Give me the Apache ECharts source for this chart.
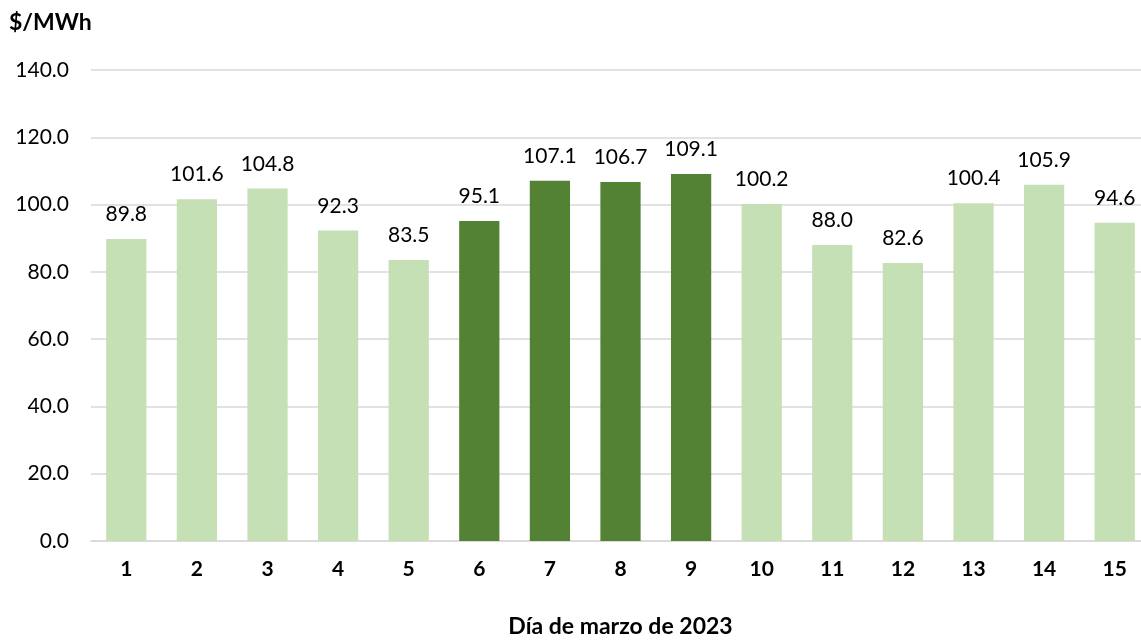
<!DOCTYPE html>
<html>
<head>
<meta charset="utf-8">
<script src="https://cdn.jsdelivr.net/npm/echarts@6/dist/echarts.min.js"></script>
<style>
  html, body { margin: 0; padding: 0; background: #fff; }
  #chart { width: 1141px; height: 641px; }
</style>
</head>
<body>
<div id="chart"></div>
<script>
var days = ['1','2','3','4','5','6','7','8','9','10','11','12','13','14','15'];
var prices = [89.8, 101.6, 104.8, 92.3, 83.5, 95.1, 107.1, 106.7, 109.1, 100.2, 88.0, 82.6, 100.4, 105.9, 94.6];
var highlightDays = ['6','7','8','9'];

var lightGreen = '#C5E0B4';
var darkGreen = '#548235';
var font = 'Lato, "Open Sans", sans-serif';

var myChart = echarts.init(document.getElementById('chart'));

var barData = [];
for (var i = 0; i < prices.length; i++) {
	barData.push({
		value: prices[i],
		itemStyle: { color: highlightDays.indexOf(days[i]) >= 0 ? darkGreen : lightGreen }
	});
}

var option = {
	animation: false,
	textStyle: { fontFamily: font },
	title: {
		text: '$/MWh',
		left: 4,
		top: 6,
		textStyle: { fontFamily: font, fontSize: 23, fontWeight: 'bold', color: '#000' }
	},
	grid: {
		left: 91,
		right: -9,
		top: 70,
		bottom: 100,
		containLabel: false,
		outerBoundsMode: 'none'
	},
	xAxis: {
		type: 'category',
		data: days,
		name: 'Día de marzo de 2023',
		nameLocation: 'middle',
		nameGap: 74,
		nameTextStyle: { fontFamily: font, fontSize: 23, fontWeight: 'bold', color: '#000' },
		axisTick: { show: false },
		axisLine: { lineStyle: { color: '#D9D9D9', width: 1.5 } },
		axisLabel: { fontFamily: font, fontSize: 21, fontWeight: 'bold', color: '#000', margin: 18 }
	},
	yAxis: {
		type: 'value',
		min: 0,
		max: 140,
		interval: 20,
		axisLine: { show: false },
		axisTick: { show: false },
		splitLine: { lineStyle: { color: '#D9D9D9', width: 1.5 } },
		axisLabel: {
			fontFamily: font, fontSize: 21, color: '#000', margin: 22,
			formatter: function (v) { return v.toFixed(1); }
		}
	},
	series: [{
		type: 'bar',
		data: barData,
		barWidth: '57%',
		label: {
			show: true,
			position: 'top',
			distance: 14,
			fontFamily: font,
			fontSize: 21,
			color: '#000',
			formatter: function (p) { return p.value.toFixed(1); }
		}
	}]
};
myChart.setOption(option);
</script>
</body>
</html>
